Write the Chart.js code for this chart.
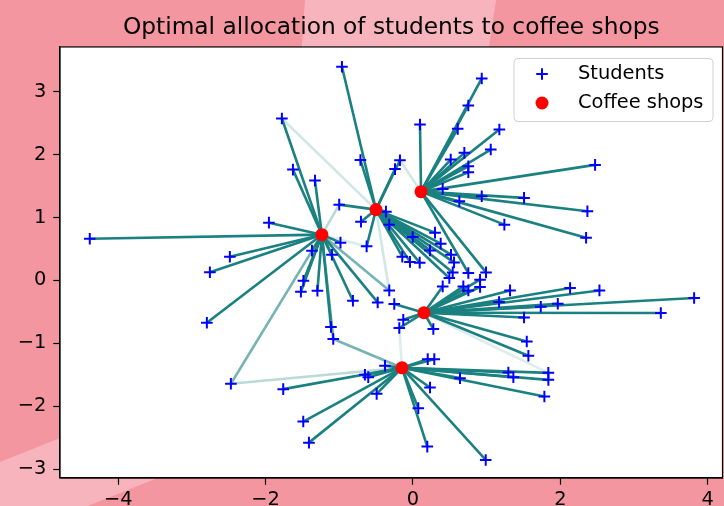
<!DOCTYPE html>
<html><head><meta charset="utf-8">
<script src="https://cdn.jsdelivr.net/npm/chart.js@4.4.1/dist/chart.umd.min.js"></script>
<style>html,body{margin:0;padding:0;background:#f496a0;}canvas{display:block;}</style>
</head><body>
<canvas id="c" width="724" height="506"></canvas>
<script>
// ---- data ----
const titleText = 'Optimal allocation of students to coffee shops';
const seriesNames = ['Students', 'Coffee shops'];
const xTicks = [-4, -2, 0, 2, 4];
const yTicks = [-3, -2, -1, 0, 1, 2, 3];

const shopX = [-1.236, -0.502, 0.109, 0.149, -0.149];
const shopY = [0.727, 1.125, 1.411, -0.514, -1.389];

const studentX = [
  -4.386, -1.779, -1.629, -1.330, -1.955, -2.485, -2.756, -2.797, -2.471, -1.371,
  -0.984, -1.100, -1.487, -1.521, -1.297, -0.815, -0.479, -0.322, -1.113,
  -1.001, -0.964, -0.713, -0.177, -0.244, -0.706, -0.367, -0.322, -0.629, -0.004,
  0.299, 0.376, 0.231, 0.516, 0.557, -0.145, -0.041, 0.091, 0.539, 0.493,
  0.095, 0.933, 0.751, 0.607, 1.172, 1.055, 0.697, 0.512, 0.751, 0.751,
  0.403, 0.933, 0.629, 1.507, 1.240, 2.471, 2.367, 2.349, 0.751, 0.991,
  -0.254, -0.132, -0.186, 0.276, 0.403, 0.683, 0.751, 0.910, 0.910, 1.317,
  1.168, 1.734, 1.965, 1.507, 2.132, 2.530, 3.815, 3.363, 1.544, 1.566,
  -0.380, 0.200, 0.289, -0.652, -0.607, -0.493, 0.231, 0.638, 1.294, 1.362,
  1.837, 1.837, 1.783, 0.072, 0.194, 0.987, -1.489, -1.412, -1.761, -1.082
];
const studentY = [
  0.663, 2.573, 1.761, 1.587, 0.918, 0.377, 0.130, -0.673, -1.642, 0.473,
  0.600, 0.409, -0.005, -0.180, -0.164, -0.323, -0.350, -0.159, -0.741,
  1.204, 3.395, 1.913, 1.909, 1.769, 0.934, 1.093, 0.886, 0.541, 0.691,
  0.759, 0.584, 0.477, 0.409, 0.286, 0.377, 0.294, 0.282, 0.127, 0.038,
  2.477, 3.209, 2.780, 2.409, 2.398, 2.080, 2.027, 1.920, 1.814, 1.718,
  1.454, 1.337, 1.257, 1.311, 0.886, 1.836, 1.098, 0.679, 0.118, 0.127,
  -0.375, -0.625, -0.757, -0.773, -0.095, -0.095, -0.159, 0.011, -0.105, -0.159,
  -0.344, -0.418, -0.371, -0.589, -0.121, -0.159, -0.280, -0.519, -0.971, -1.198,
  -1.357, -1.251, -1.251, -1.500, -1.537, -1.803, -1.702, -1.553, -1.464, -1.540,
  -1.469, -1.580, -1.846, -2.030, -2.641, -2.853, -2.243, -2.578, -1.728, -0.932
];
// transport plan: student index, shop index, relative mass
const linkStudent = [
  0,1,2,3,4,5,6,7,8,9,10,11,12,13,14,15,16,17,18,
  19,20,21,22,23,24,25,26,27,28,29,30,31,32,33,34,35,36,37,38,
  39,40,41,42,43,44,45,46,47,48,49,50,51,52,53,54,55,56,57,58,
  59,60,61,62,63,64,65,66,67,68,69,70,71,72,73,74,75,76,77,78,
  79,80,81,82,83,84,85,86,87,88,89,90,91,92,93,94,95,96,97,98,
  1,8,17,19,22,27,61,89,98
];
const linkShop = [
  0,0,0,0,0,0,0,0,0,0,0,0,0,0,0,0,0,0,0,
  1,1,1,1,1,1,1,1,1,1,1,1,1,1,1,1,1,1,1,1,
  2,2,2,2,2,2,2,2,2,2,2,2,2,2,2,2,2,2,2,2,
  3,3,3,3,3,3,3,3,3,3,3,3,3,3,3,3,3,3,3,3,
  4,4,4,4,4,4,4,4,4,4,4,4,4,4,4,4,4,4,4,4,
  1,4,1,0,2,0,4,3,0
];
const linkWeight = [
  1,1,1,1,1,1,1,1,0.6,1,1,1,1,1,1,1,1,0.6,1,
  1,1,1,1,1,1,1,1,1,1,1,1,1,1,1,1,1,1,1,1,
  1,1,1,1,1,1,1,1,1,1,1,1,1,1,1,1,1,1,1,1,
  1,1,1,1,1,1,1,1,1,1,1,1,1,1,1,1,1,1,1,1,
  1,1,1,1,1,1,1,1,1,1,1,1,1,1,1,1,1,1,1,0.6,
  0.2,0.3,0.2,0.3,0.2,0.15,0.15,0.15,0.8
];

// ---- build datasets ----
const datasets = [];
datasets.push({
  label: seriesNames[1],
  data: shopX.map((x, i) => ({x: x, y: shopY[i]})),
  showLine: false, pointStyle: 'circle', pointRadius: 6.5, pointHoverRadius: 6.5,
  pointBackgroundColor: '#ff0000', pointBorderColor: '#ff0000', pointBorderWidth: 0,
  order: 0
});
datasets.push({
  label: seriesNames[0],
  data: studentX.map((x, i) => ({x: x, y: studentY[i]})),
  showLine: false, pointStyle: 'cross', pointRadius: 5.8, pointHoverRadius: 5.8,
  pointBorderColor: '#0000ff', pointBackgroundColor: '#0000ff', pointBorderWidth: 2,
  order: 1
});
linkStudent.forEach((s, k) => {
  const j = linkShop[k];
  datasets.push({
    label: 'plan',
    data: [{x: studentX[s], y: studentY[s]}, {x: shopX[j], y: shopY[j]}],
    showLine: true, borderColor: 'rgba(26,128,128,' + linkWeight[k] + ')',
    borderWidth: 2.6, pointRadius: 0, pointHoverRadius: 0, order: 2
  });
});

const fmt = v => (v < 0 ? '\u2212' : '') + Math.abs(v);
const tickFont = {family: 'DejaVu Sans', size: 19.4};

const decor = {
  id: 'decor',
  beforeDraw(chart) {
    const ctx = chart.ctx, a = chart.chartArea;
    ctx.save();
    ctx.fillStyle = '#f496a0';
    ctx.fillRect(0, 0, chart.width, chart.height);
    ctx.fillStyle = '#f7b4bc';
    ctx.beginPath();
    ctx.moveTo(305, 0); ctx.lineTo(496, 0); ctx.lineTo(487, 60); ctx.lineTo(301, 60);
    ctx.closePath(); ctx.fill();
    ctx.beginPath();
    ctx.moveTo(0, 462); ctx.lineTo(400, 302); ctx.lineTo(400, 381); ctx.lineTo(0, 541);
    ctx.closePath(); ctx.fill();
    ctx.fillStyle = '#ffffff';
    ctx.fillRect(a.left, a.top, a.right - a.left, a.bottom - a.top);
    ctx.restore();
  },
  afterDraw(chart) {
    const ctx = chart.ctx, a = chart.chartArea;
    ctx.save();
    ctx.strokeStyle = '#000'; ctx.lineWidth = 1.2;
    ctx.strokeRect(a.left, a.top, a.right - a.left, a.bottom - a.top);
    // legend
    const lx = 514, ly = 58.5, lw = 199, lh = 63, r = 4;
    ctx.beginPath();
    ctx.moveTo(lx + r, ly); ctx.lineTo(lx + lw - r, ly); ctx.quadraticCurveTo(lx + lw, ly, lx + lw, ly + r);
    ctx.lineTo(lx + lw, ly + lh - r); ctx.quadraticCurveTo(lx + lw, ly + lh, lx + lw - r, ly + lh);
    ctx.lineTo(lx + r, ly + lh); ctx.quadraticCurveTo(lx, ly + lh, lx, ly + lh - r);
    ctx.lineTo(lx, ly + r); ctx.quadraticCurveTo(lx, ly, lx + r, ly);
    ctx.closePath();
    ctx.fillStyle = 'rgba(255,255,255,0.8)'; ctx.fill();
    ctx.strokeStyle = '#d0d0d0'; ctx.lineWidth = 1; ctx.stroke();
    ctx.strokeStyle = '#0000ff'; ctx.lineWidth = 2;
    ctx.beginPath();
    ctx.moveTo(542 - 5.8, 74); ctx.lineTo(542 + 5.8, 74);
    ctx.moveTo(542, 74 - 5.8); ctx.lineTo(542, 74 + 5.8);
    ctx.stroke();
    ctx.fillStyle = '#ff0000';
    ctx.beginPath(); ctx.arc(542, 103, 6.5, 0, Math.PI * 2); ctx.fill();
    ctx.fillStyle = '#000';
    ctx.font = '19.4px "DejaVu Sans"';
    ctx.textBaseline = 'middle';
    ctx.fillText(seriesNames[0], 578, 74);
    ctx.fillText(seriesNames[1], 578, 103);
    ctx.restore();
  }
};

new Chart(document.getElementById('c'), {
  type: 'scatter',
  data: {datasets: datasets},
  plugins: [decor],
  options: {
    responsive: false, animation: false, devicePixelRatio: 1,
    events: [],
    layout: {autoPadding: false, padding: {left: 0, right: 1.5, top: 0, bottom: 0}},
    plugins: {
      legend: {display: false},
      tooltip: {enabled: false},
      title: {
        display: true, text: titleText, fullSize: false, color: '#000',
        font: {family: 'DejaVu Sans', size: 23.3, weight: 'normal'},
        padding: {top: 14, bottom: 5}
      }
    },
    scales: {
      x: {
        type: 'linear', min: -4.79, max: 4.2,
        afterBuildTicks: s => { s.ticks = xTicks.map(v => ({value: v})); },
        afterFit: s => { s.height = 28; s.paddingLeft = 0; s.paddingRight = 0; },
        ticks: {callback: v => fmt(v), font: tickFont, color: '#000', padding: 4, maxRotation: 0, autoSkip: false},
        grid: {drawOnChartArea: false, drawTicks: true, tickLength: 6.8, color: '#000', tickWidth: 1.2},
        border: {display: true, color: '#000', width: 1.2}
      },
      y: {
        type: 'linear', min: -3.14, max: 3.71,
        afterBuildTicks: s => { s.ticks = yTicks.map(v => ({value: v})); },
        afterFit: s => { s.width = 60; s.paddingTop = 0; s.paddingBottom = 0; },
        ticks: {callback: v => fmt(v), font: tickFont, color: '#000', padding: 6.8, autoSkip: false},
        grid: {drawOnChartArea: false, drawTicks: true, tickLength: 6.8, color: '#000', tickWidth: 1.2},
        border: {display: true, color: '#000', width: 1.2}
      }
    }
  }
});
</script>
</body></html>
